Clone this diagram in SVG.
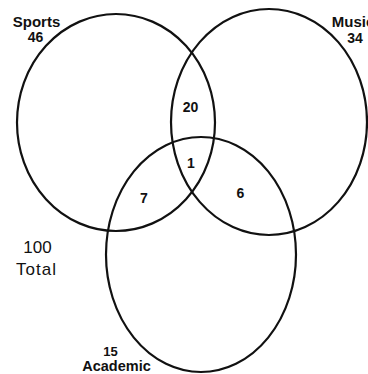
<svg xmlns="http://www.w3.org/2000/svg" width="368" height="374" viewBox="0 0 368 374">
<style>
.c{fill:none;stroke:#111;stroke-width:2.2}
.t{font-family:"Liberation Sans",Arial,sans-serif;font-weight:bold;fill:#111;text-anchor:middle}
.n{font-weight:normal}
</style>
<rect width="368" height="374" fill="#fff"/>
<g id="connectors"/>
<g id="sports">
<ellipse class="c" cx="116" cy="122.5" rx="99" ry="108.5"/>
<text class="t" x="36.5" y="27" font-size="15">Sports</text>
<text class="t" x="35.5" y="42" font-size="14">46</text>
</g>
<g id="music">
<ellipse class="c" cx="269" cy="122" rx="98" ry="113"/>
<text class="t" x="353" y="27" font-size="15">Music</text>
<text class="t" x="355" y="43" font-size="14">34</text>
</g>
<g id="academic">
<ellipse class="c" cx="201" cy="254.5" rx="95" ry="117.5"/>
<text class="t" x="110.5" y="355.5" font-size="13">15</text>
<text class="t" x="116.5" y="371" font-size="14.5">Academic</text>
</g>
<g id="regions">
<text class="t" x="190.5" y="112" font-size="14">20</text>
<text class="t" x="191" y="168" font-size="14">1</text>
<text class="t" x="144" y="203" font-size="14">7</text>
<text class="t" x="240.5" y="198" font-size="14">6</text>
</g>
<g id="total">
<text class="t n" x="37.5" y="253" font-size="17">100</text>
<text class="t n" x="36.5" y="275" font-size="17" letter-spacing="1">Total</text>
</g>
</svg>
